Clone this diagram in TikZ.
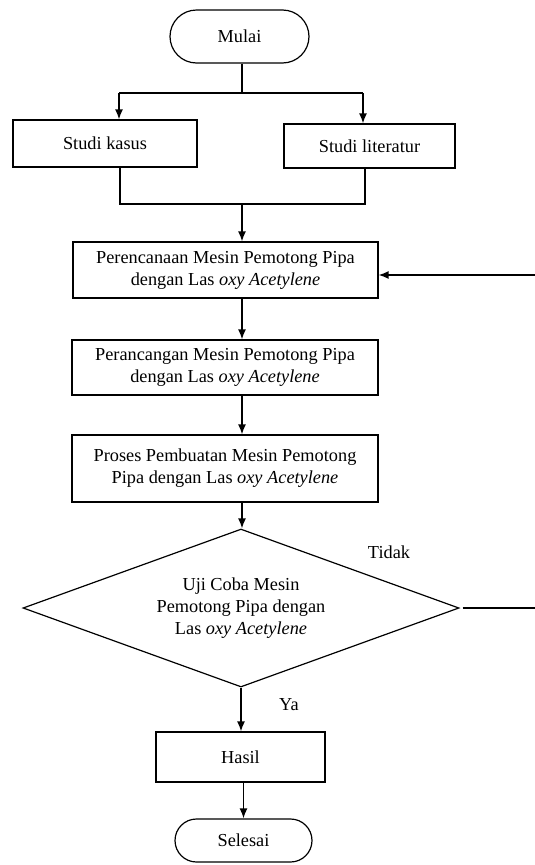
\documentclass[tikz,border=0pt]{standalone}
\usepackage{fontspec}
\setmainfont{Liberation Serif}
\usetikzlibrary{shapes.geometric,shapes.misc,arrows.meta}
\begin{document}
\begin{tikzpicture}[x=1pt,y=-1pt,
  every node/.style={font=\fontsize{18.3}{22}\selectfont},
  procbox/.style={draw,rectangle,line width=1.2pt,inner sep=0pt,align=center},
  term/.style={draw,rounded rectangle,line width=1.2pt,inner sep=0pt},
  arr/.style={line width=1.5pt,-{Latex[length=10pt,width=8pt]}},
  ln/.style={line width=1.5pt}]
\useasboundingbox (0,0) rectangle (535,865);
\node[term,minimum width=139pt,minimum height=53pt] (mulai) at (239.5,36.5) {Mulai};
\node[procbox,minimum width=184pt,minimum height=47pt] (kasus) at (105,143.5) {Studi kasus};
\node[procbox,minimum width=171pt,minimum height=44pt] (lit) at (369.5,146) {Studi literatur};
\node[procbox,minimum width=305pt,minimum height=56pt] (rencana) at (225.5,270) {Perencanaan Mesin Pemotong Pipa\\dengan Las \textit{oxy Acetylene}};
\node[procbox,minimum width=306pt,minimum height=55pt] (rancang) at (225,367.5) {Perancangan Mesin Pemotong Pipa\\dengan Las \textit{oxy Acetylene}};
\node[procbox,minimum width=306pt,minimum height=67pt] (proses) at (225,468.5) {Proses Pembuatan Mesin Pemotong\\Pipa dengan Las \textit{oxy Acetylene}};
\node[draw,diamond,line width=1.2pt,aspect=2.76,inner sep=0pt,minimum width=436pt,minimum height=158pt,align=center] (uji) at (241,608) {Uji Coba Mesin\\Pemotong Pipa dengan\\Las \textit{oxy Acetylene}};
\node[procbox,minimum width=169pt,minimum height=50pt] (hasil) at (240.5,757) {Hasil};
\node[term,minimum width=137pt,minimum height=43pt] (selesai) at (243.5,840.5) {Selesai};
\node (tidak) at (389,552) {Tidak};
\node (ya) at (289,705) {Ya};
\coordinate (colx) at (242,0);
\coordinate (split) at (242,93);
\coordinate (kl) at (119,93);
\coordinate (kr) at (363,93);
\coordinate (jl) at (120,204);
\coordinate (jr) at (365,204);
\coordinate (join) at (242,204);
\coordinate (fbb) at (545,608);
\coordinate (fbt) at (545,275);
% connectors
\draw[ln] (mulai.south -| colx) -- (split);
\draw[ln] (kl) -- (kr);
\draw[arr] (kl) -- (kl |- kasus.north);
\draw[arr] (kr) -- (kr |- lit.north);
\draw[ln] (jl |- kasus.south) -- (jl) -- (jr) -- (jr |- lit.south);
\draw[arr] (join) -- (join |- rencana.north);
\draw[arr] (rencana.south -| colx) -- (rancang.north -| colx);
\draw[arr] (rancang.south -| colx) -- (proses.north -| colx);
\draw[arr] (proses.south -| colx) -- (colx |- uji.north);
\draw[arr] (uji.south) -- (uji.south |- hasil.north);
\draw[arr] (hasil.south -| selesai.north) -- (selesai.north);
\draw[arr] ([xshift=3pt]uji.east) -- (fbb) -- (fbt) -- (fbt -| rencana.east);
\end{tikzpicture}
\end{document}
